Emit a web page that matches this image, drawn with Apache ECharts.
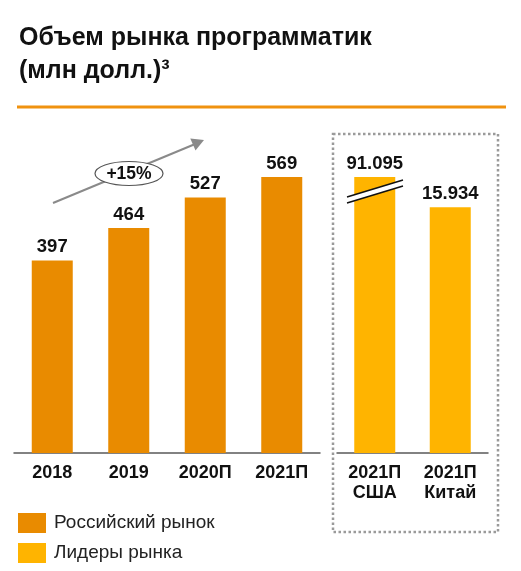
<!DOCTYPE html>
<html>
<head>
<meta charset="utf-8">
<script src="https://cdn.jsdelivr.net/npm/echarts@6/dist/echarts.min.js"></script>
<style>html,body{margin:0;padding:0;background:#fff;}#c{width:521px;height:571px;}</style>
</head>
<body>
<div id="c"></div>
<script>
const titleLines = ['Объем рынка программатик', '(млн долл.)³'];
const ruCategories = ['2018', '2019', '2020П', '2021П'];
const ruValues = [397, 464, 527, 569];
const leadCategories = ['2021П\nСША', '2021П\nКитай'];
const leadValues = [91095, 15934];
const seriesNames = ['Российский рынок', 'Лидеры рынка'];
const growthLabel = '+15%';

const FONT = '"Liberation Sans", Arial, sans-serif';
const fmtThousands = v => v >= 1000 ? Math.floor(v / 1000) + '.' + String(v % 1000).padStart(3, '0') : String(v);

const chart = echarts.init(document.getElementById('c'), null, {renderer: 'canvas'});

const axisLabelStyle = {
  color: '#111', fontFamily: FONT, fontWeight: 'bold', fontSize: 18,
  lineHeight: 20, margin: 10, interval: 0
};
const axisLine = {show: true, lineStyle: {color: '#5a5a5a', width: 1.5}};
const valueLabel = {show: true, position: 'top', distance: 4, fontFamily: FONT, fontWeight: 'bold', fontSize: 18.5, color: '#111',
  formatter: p => fmtThousands(p.value)};

chart.setOption({
  animation: false,
  title: {
    text: titleLines.join('\n'), left: 19, top: 22, padding: 0,
    textStyle: {fontFamily: FONT, fontWeight: 'bold', fontSize: 25, lineHeight: 33, color: '#111'}
  },
  legend: {
    orient: 'vertical', left: 18, top: 513, itemWidth: 28, itemHeight: 20, itemGap: 10,
    icon: 'rect', padding: 0,
    textStyle: {fontFamily: FONT, fontSize: 19, color: '#222', padding: [0, 0, 0, 3]},
    data: seriesNames
  },
  grid: [
    {left: 14, width: 306, top: 162, height: 291, containLabel: false},
    {left: 337, width: 151, top: 177, height: 276, containLabel: false}
  ],
  xAxis: [
    {type: 'category', gridIndex: 0, data: ruCategories, axisLine, axisTick: {show: false}, axisLabel: axisLabelStyle},
    {type: 'category', gridIndex: 1, data: leadCategories, axisLine, axisTick: {show: false}, axisLabel: axisLabelStyle}
  ],
  yAxis: [
    {type: 'value', gridIndex: 0, min: 0, max: 600, show: false, splitLine: {show: false}},
    {type: 'value', gridIndex: 1, min: 0, max: 17900, show: false, splitLine: {show: false}}
  ],
  series: [
    {
      name: seriesNames[0], type: 'bar', xAxisIndex: 0, yAxisIndex: 0, data: ruValues,
      barWidth: 41, itemStyle: {color: '#E98B00'}, label: valueLabel
    },
    {
      name: seriesNames[1], type: 'bar', xAxisIndex: 1, yAxisIndex: 1, data: leadValues, clip: true,
      barWidth: 41, itemStyle: {color: '#FFB400'}, label: valueLabel
    }
  ],
  graphic: [
    {type: 'line', shape: {x1: 17, y1: 107, x2: 506, y2: 107}, style: {stroke: '#F0920F', lineWidth: 3}},
    {type: 'rect', shape: {x: 333, y: 134, width: 165, height: 398},
      style: {fill: 'none', stroke: '#9a9a9a', lineWidth: 2.5, lineDash: [2.5, 2.5]}},
    // growth arrow
    {type: 'line', shape: {x1: 53, y1: 203, x2: 194, y2: 144.5}, style: {stroke: '#8a8a8a', lineWidth: 2}},
    {type: 'polygon', shape: {points: [[204, 140], [195.5, 150.5], [190.3, 138.6]]}, style: {fill: '#8a8a8a'}},
    {type: 'ellipse', shape: {cx: 129, cy: 173.5, rx: 34, ry: 12}, style: {fill: '#fff', stroke: '#555', lineWidth: 1.2}, z: 10},
    {type: 'text', x: 129, y: 174, z: 11,
      style: {text: growthLabel, align: 'center', verticalAlign: 'middle', fontFamily: FONT, fontWeight: 'bold', fontSize: 17.5, fill: '#111'}},
    // axis break marks on USA bar
    {type: 'polygon', z: 20, shape: {points: [[347, 197], [403, 180], [403, 186], [347, 203]]}, style: {fill: '#fff'}},
    {type: 'line', z: 21, shape: {x1: 347, y1: 197, x2: 403, y2: 180}, style: {stroke: '#111', lineWidth: 1.5}},
    {type: 'line', z: 21, shape: {x1: 347, y1: 203, x2: 403, y2: 186}, style: {stroke: '#111', lineWidth: 1.5}}
  ]
});
</script>
</body>
</html>
